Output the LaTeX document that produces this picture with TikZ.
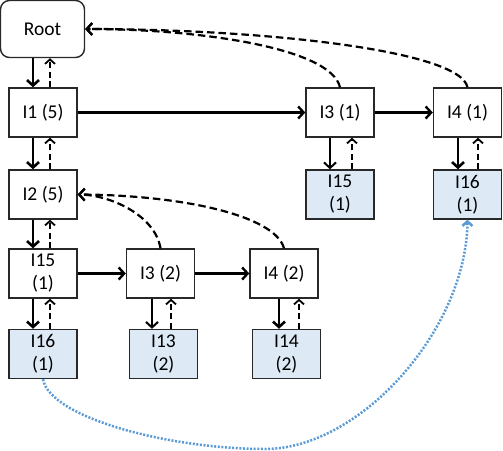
\documentclass[tikz,border=0pt]{standalone}
\usepackage{fontspec}
\setmainfont{Carlito}
\usepackage{xcolor}
\usetikzlibrary{arrows.meta,calc}

\definecolor{leafblue}{RGB}{221,234,246}
\definecolor{linkblue}{RGB}{91,155,213}
\definecolor{boxgray}{RGB}{40,40,40}

\begin{document}
\begin{tikzpicture}[x=1pt, y=-1pt,
  every node/.style={font=\fontsize{19.5}{23}\selectfont},
  box/.style={draw=boxgray, line width=1.4pt, inner sep=0pt, minimum width=68pt, minimum height=49pt, align=center},
  leaf/.style={box, fill=leafblue},
  down/.style={-{Straight Barb[length=5.5pt,width=12pt]}},
  up/.style={-{Straight Barb[length=4.5pt,width=10pt]}, line width=1.8pt, dash pattern=on 6pt off 3.5pt},
  next/.style={-{Straight Barb[length=5.5pt,width=12pt]}, line width=2.4pt},
  parent/.style={-{Straight Barb[length=5.5pt,width=12pt]}, line width=2.2pt, dash pattern=on 7.5pt off 4pt}]
  \useasboundingbox (0,0) rectangle (503,450);

  \node[draw=boxgray, line width=1.4pt, rounded corners=9pt, minimum width=84pt, minimum height=57pt, inner sep=0pt] (root) at (42.5,29) {Root};

  \node[box] (i1) at (43,112.5) {I1 (5)};
  \node[box] (i2) at (43,194.5) {I2 (5)};
  \node[box] (i15a) at (43,273.5) {I15\\(1)};
  \node[leaf] (i16a) at (43,354) {I16\\(1)};

  \node[box] (i3a) at (340,112.5) {I3 (1)};
  \node[box] (i4a) at (467.5,112.5) {I4 (1)};
  \node[leaf] (i15b) at (340,194.5) {I15\\(1)};
  \node[leaf] (i16b) at (467.5,194.5) {I16\\(1)};

  \node[box] (i3b) at (160.5,273.5) {I3 (2)};
  \node[box] (i4b) at (284,273.5) {I4 (2)};
  \node[leaf] (i13) at (163.5,354) {I13\\(2)};
  \node[leaf] (i14) at (286.5,354) {I14\\(2)};

  \foreach \a/\b/\l/\r/\w in {root/i1/-9.5/7.5/2.6, i1/i2/-10/7/2.6, i2/i15a/-10/7/2.6, i15a/i16a/-10/7/2.6,
      i3a/i15b/-10/12/2, i4a/i16b/-9.5/10.5/2.6, i3b/i13/-8.5/10.5/2, i4b/i14/-5/15/2.6} {
    \draw[down, line width=\w pt] ([xshift=\l pt]\a.south) -- ([xshift=\l pt]\a.south |- \b.north);
    \draw[up] ([xshift=\r pt]\a.south |- \b.north) -- ([xshift=\r pt]\a.south);
  }

  \draw[next] (i1) -- (i3a);
  \draw[next] (i3a) -- (i4a);
  \draw[next] (i15a) -- (i3b);
  \draw[next] (i3b) -- (i4b);

  \draw[parent] (i3a.north) .. controls (331,48) and (200,29) .. (root.east);
  \draw[parent] (i4a.north) .. controls (460,50) and (260,29) .. (root.east);
  \draw[parent] (i3b.north) .. controls (155,215) and (110,195) .. (i2.east);
  \draw[parent] (i4b.north) .. controls (275,215) and (180,195) .. (i2.east);

  \draw[linkblue, line width=2.5pt, dash pattern=on 2pt off 1.6pt, -{Straight Barb[length=4.5pt,width=10pt]}]
    (i16a.south) .. controls (50,418) and (170,449) .. (265,449)
    .. controls (360,449) and (466,330) .. (i16b.south);
\end{tikzpicture}
\end{document}
